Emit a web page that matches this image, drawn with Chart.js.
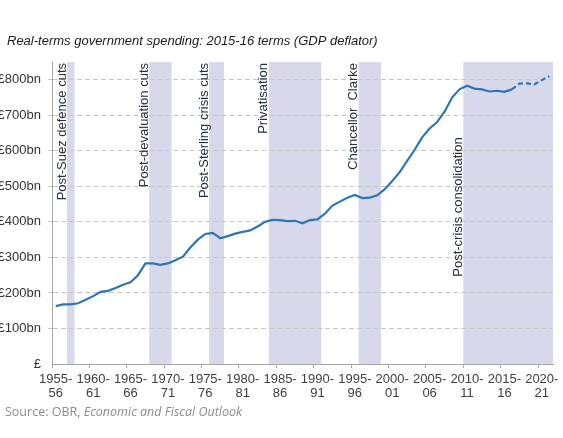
<!DOCTYPE html>
<html>
<head>
<meta charset="utf-8">
<script src="https://cdn.jsdelivr.net/npm/chart.js@4/dist/chart.umd.min.js"></script>
<style>
  html, body { margin: 0; padding: 0; background: #fff; }
  #wrap { width: 563px; height: 438px; }
</style>
</head>
<body>
<div id="wrap"><canvas id="chart" width="563" height="438"></canvas></div>
<script>
// real-terms spending, £bn (2015-16 prices)

const fiscalYears = [
  '1955-56', '1956-57', '1957-58', '1958-59', '1959-60', '1960-61', '1961-62', '1962-63', '1963-64', '1964-65',
  '1965-66', '1966-67', '1967-68', '1968-69', '1969-70', '1970-71', '1971-72', '1972-73', '1973-74', '1974-75',
  '1975-76', '1976-77', '1977-78', '1978-79', '1979-80', '1980-81', '1981-82', '1982-83', '1983-84', '1984-85',
  '1985-86', '1986-87', '1987-88', '1988-89', '1989-90', '1990-91', '1991-92', '1992-93', '1993-94', '1994-95',
  '1995-96', '1996-97', '1997-98', '1998-99', '1999-00', '2000-01', '2001-02', '2002-03', '2003-04', '2004-05',
  '2005-06', '2006-07', '2007-08', '2008-09', '2009-10', '2010-11', '2011-12', '2012-13', '2013-14', '2014-15',
  '2015-16', '2016-17', '2017-18', '2018-19', '2019-20', '2020-21', '2021-22'
];

// outturn 1955-56 .. 2016-17
const spendingOutturn = [
  163, 168, 168, 171, 181, 191, 203, 206, 214, 223,
  230, 250, 283, 283, 279, 283, 292, 302, 328, 350,
  366, 369, 354, 360, 367, 372, 376, 387, 400, 406,
  405, 402, 403, 396, 405, 407, 423, 446, 457, 468,
  476, 467, 468, 475, 492, 515, 540, 572, 603, 638,
  663, 681, 710, 750, 773, 783, 775, 773, 767, 769,
  766, 773
];

// forecast 2016-17 .. 2021-22
const forecastYears = ['2016-17', '2017-18', '2018-19', '2019-20', '2020-21', '2021-22'];
const spendingForecast = [773, 789, 790, 787, 799, 810];

const yTicks = [0, 100, 200, 300, 400, 500, 600, 700, 800];

// consolidation episodes
const bandLabels = ['Post-Suez defence cuts', 'Post-devaluation cuts', 'Post-Sterling crisis cuts',
  'Privatisation', 'Chancellor  Clarke', 'Post-crisis consolidation'];
const bandStart = ['1957-58', '1968-69', '1976-77', '1984-85', '1996-97', '2010-11'];
const bandEnd   = ['1957-58', '1970-71', '1977-78', '1990-91', '1998-99', '2021-22'];

// where the top of each rotated label sits (in £bn on the y scale)
const labelTopAt = { 'Post-crisis consolidation': 638 };

const BAND_COLOR = '#d7d9eb';
const LINE_COLOR = '#2e75b6';
const Y_MAX = 850;

function padSeries(years, values) {
  return fiscalYears.map(fy => {
    const i = years.indexOf(fy);
    return i === -1 ? null : values[i];
  });
}

const outturnData = padSeries(fiscalYears.slice(0, spendingOutturn.length), spendingOutturn);
const forecastData = padSeries(forecastYears, spendingForecast);

const decorPlugin = {
  id: 'decor',
  beforeDraw(chart) {
    const { ctx, chartArea, scales: { x } } = chart;
    const half = (x.getPixelForValue(1) - x.getPixelForValue(0)) / 2;
    ctx.save();
    ctx.fillStyle = BAND_COLOR;
    bandStart.forEach((s, k) => {
      const l = x.getPixelForValue(fiscalYears.indexOf(s)) - half;
      const r = x.getPixelForValue(fiscalYears.indexOf(bandEnd[k])) + half;
      ctx.fillRect(l, chartArea.top, r - l, chartArea.bottom - chartArea.top);
    });
    ctx.restore();
  },
  afterDatasetsDraw(chart) {
    const { ctx, chartArea, scales: { x, y } } = chart;
    const half = (x.getPixelForValue(1) - x.getPixelForValue(0)) / 2;
    ctx.save();
    ctx.fillStyle = '#243047';
    ctx.font = '13px "Liberation Sans", Arial, sans-serif';
    ctx.textAlign = 'right';
    ctx.textBaseline = 'bottom';
    bandLabels.forEach((txt, k) => {
      const l = x.getPixelForValue(fiscalYears.indexOf(bandStart[k])) - half;
      const top = labelTopAt[txt] !== undefined ? y.getPixelForValue(labelTopAt[txt]) : chartArea.top + 1;
      ctx.save();
      ctx.translate(l + 1.5, top);
      ctx.rotate(-Math.PI / 2);
      ctx.fillText(txt, 0, 0);
      ctx.restore();
    });
    ctx.restore();
  },
  afterDraw(chart) {
    const ctx = chart.ctx;
    ctx.save();
    ctx.fillStyle = '#1a1a1a';
    ctx.font = 'italic 13px "Liberation Sans", Arial, sans-serif';
    ctx.textBaseline = 'alphabetic';
    ctx.fillText('Real-terms government spending: 2015-16 terms (GDP deflator)', 7, 45);

    ctx.fillStyle = '#8c8c8c';
    ctx.font = '12.5px "Open Sans", sans-serif';
    const lead = 'Source: OBR, ';
    ctx.fillText(lead, 5, 416);
    const w = ctx.measureText(lead).width;
    ctx.font = 'italic 12.5px "Open Sans", sans-serif';
    ctx.fillText('Economic and Fiscal Outlook', 5 + w, 416);
    ctx.restore();
  }
};

new Chart(document.getElementById('chart'), {
  type: 'line',
  data: {
    labels: fiscalYears,
    datasets: [
      {
        label: 'Outturn',
        data: outturnData,
        borderColor: LINE_COLOR,
        borderWidth: 2.2,
        pointRadius: 0,
        tension: 0,
        spanGaps: false
      },
      {
        label: 'Forecast',
        data: forecastData,
        borderColor: LINE_COLOR,
        borderWidth: 2.2,
        borderDash: [5, 3],
        pointRadius: 0,
        tension: 0,
        spanGaps: false
      }
    ]
  },
  options: {
    responsive: false,
    animation: false,
    devicePixelRatio: 1,
    layout: { padding: { top: 62, right: 10, left: 0, bottom: 0 } },
    plugins: {
      legend: { display: false },
      tooltip: { enabled: false }
    },
    scales: {
      x: {
        type: 'category',
        offset: true,
        grid: {
          offset: true,
          drawOnChartArea: false,
          tickLength: 4,
          color: ctx => (ctx.index % 5 === 0 ? '#a6a6a6' : 'rgba(0,0,0,0)')
        },
        border: { display: true, color: '#a6a6a6', width: 1 },
        ticks: {
          autoSkip: false,
          maxRotation: 0,
          minRotation: 0,
          padding: 4,
          color: '#404040',
          font: { family: '"Liberation Sans", Arial, sans-serif', size: 13, lineHeight: 1.1 },
          callback(val, idx) {
            if (idx % 5 !== 0) return '';
            const l = this.getLabelForValue(val);
            return [l.slice(0, 5), l.slice(5)];
          }
        },
        afterFit(scale) { scale.height = 74; }
      },
      y: {
        min: 0,
        max: Y_MAX,
        afterBuildTicks(axis) {
          axis.ticks = yTicks.map(v => ({ value: v }));
        },
        grid: {
          color: ctx => (ctx.tick && ctx.tick.value === 0 ? 'rgba(0,0,0,0)' : '#c8c8c8'),
          lineWidth: 1,
          tickLength: 4
        },
        border: { display: true, color: '#a6a6a6', width: 1, dash: [5, 3] },
        ticks: {
          padding: 7,
          color: '#333333',
          font: { family: '"Liberation Sans", Arial, sans-serif', size: 13 },
          callback: v => (v === 0 ? '£' : '£' + v + 'bn')
        },
        afterFit(scale) { scale.width = 52; }
      }
    }
  },
  plugins: [decorPlugin]
});
</script>
</body>
</html>
